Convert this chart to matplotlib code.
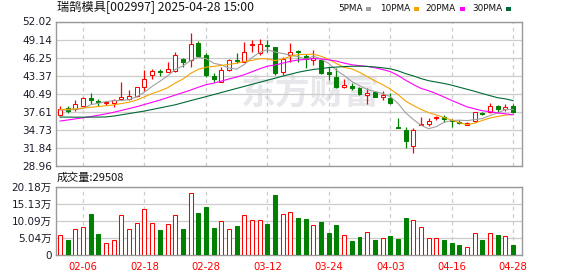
import numpy as np
import pandas as pd
import matplotlib
matplotlib.use("Agg")
import matplotlib.pyplot as plt
from matplotlib.patches import Rectangle

# ---------------- data ----------------
dates = ["01-24", "01-27", "02-05", "02-06", "02-07", "02-10", "02-11", "02-12", "02-13", "02-14",
         "02-17", "02-18", "02-19", "02-20", "02-21", "02-24", "02-25", "02-26", "02-27", "02-28",
         "03-03", "03-04", "03-05", "03-06", "03-07", "03-10", "03-11", "03-12", "03-13", "03-14",
         "03-17", "03-18", "03-19", "03-20", "03-21", "03-24", "03-25", "03-26", "03-27", "03-28",
         "03-31", "04-01", "04-02", "04-03", "04-07", "04-08", "04-09", "04-10", "04-11", "04-14",
         "04-15", "04-16", "04-17", "04-18", "04-21", "04-22", "04-23", "04-24", "04-25", "04-28"]

open_ = [37.06, 38.22, 37.97, 38.54, 39.82, 39.24, 38.93, 38.93, 39.66, 39.66,
         40.09, 41.58, 43.40, 44.13, 43.97, 44.16, 46.00, 45.84, 48.60, 46.64,
         43.28, 42.28, 44.24, 45.84, 45.57, 48.19, 47.01, 48.24, 47.87, 43.97,
         46.69, 47.28, 46.48, 45.84, 45.84, 43.97, 43.17, 41.58, 41.69, 41.32,
         40.25, 40.78, 39.98, 39.82, 35.09, 34.66, 32.15, 35.46, 35.62, 36.58,
         36.69, 36.26, 35.99, 35.51, 36.10, 37.42, 37.58, 38.49, 37.97, 38.49]
close = [37.97, 37.74, 38.77, 39.72, 39.40, 39.08, 39.13, 39.45, 39.88, 40.04,
         41.48, 42.76, 44.08, 43.92, 44.35, 46.59, 45.57, 48.39, 46.48, 43.44,
         42.85, 44.24, 45.84, 45.63, 47.17, 48.35, 48.39, 48.03, 43.72, 46.00,
         47.12, 47.07, 46.05, 46.11, 43.72, 43.60, 41.58, 41.85, 41.37, 40.41,
         40.52, 39.98, 40.25, 38.93, 35.04, 32.95, 34.66, 35.57, 36.15, 36.74,
         36.37, 36.10, 35.83, 35.83, 37.49, 37.26, 38.54, 38.01, 38.38, 37.54]
high = [38.54, 38.49, 39.45, 39.88, 40.52, 39.56, 39.29, 39.61, 42.33, 41.05,
        41.58, 44.24, 44.35, 44.45, 45.47, 47.17, 46.21, 50.20, 48.92, 46.91,
        43.71, 44.77, 45.95, 46.91, 48.76, 49.03, 49.30, 49.03, 47.96, 46.37,
        48.60, 47.44, 46.75, 47.44, 46.00, 44.77, 44.61, 42.76, 42.21, 41.58,
        41.32, 40.94, 40.94, 40.52, 36.53, 35.09, 35.03, 36.69, 36.53, 36.94,
        37.06, 36.42, 36.26, 35.99, 37.58, 37.58, 38.93, 38.60, 38.77, 38.77]
low = [36.94, 37.42, 37.74, 38.49, 38.77, 38.54, 38.65, 38.38, 39.66, 39.45,
       39.98, 40.94, 42.85, 43.33, 43.97, 43.88, 44.77, 44.77, 46.37, 43.17,
       42.37, 42.28, 44.13, 45.31, 45.47, 47.17, 46.64, 47.17, 43.44, 43.44,
       45.57, 45.57, 44.61, 45.04, 43.60, 42.65, 41.32, 41.32, 41.05, 40.25,
       38.81, 39.88, 39.45, 38.81, 35.04, 31.74, 31.04, 35.46, 35.30, 36.26,
       35.99, 35.19, 35.62, 35.41, 35.99, 37.06, 37.42, 37.33, 37.74, 37.33]
# volume in 万手
volume = [6.01, 4.37, 7.76, 8.34, 12.22, 6.11, 3.69, 4.56, 11.83, 7.76,
          9.51, 13.58, 9.51, 7.28, 9.22, 11.83, 7.86, 18.53, 12.51, 14.26,
          8.15, 10.09, 7.76, 8.73, 11.83, 10.38, 10.38, 9.31, 17.75, 12.13,
          12.71, 10.86, 10.57, 9.02, 9.89, 6.40, 9.02, 5.82, 4.07, 5.24,
          6.69, 4.37, 4.95, 5.53, 4.66, 11.06, 10.48, 8.44, 4.95, 4.95,
          4.37, 3.49, 2.91, 2.52, 6.60, 4.37, 6.60, 5.82, 5.53, 2.9508]

# moving-average values before the window is full
ma5_head = [37.85, 37.88, 37.95, 38.10]
ma10_head = [37.95, 37.98, 38.05, 38.18, 38.30, 38.42, 38.55, 38.70, 38.90]
ma20_head = [36.10, 36.27, 36.45, 36.62, 36.82, 37.03, 37.25, 37.50, 37.80, 38.10,
             38.40, 38.75, 39.10, 39.45, 39.85, 40.25, 40.65, 41.05, 41.50]
ma30_head = [36.73, 36.73, 36.72, 36.72, 36.73, 36.74, 36.76, 36.90, 37.10, 37.30,
             37.50, 37.70, 37.95, 38.20, 38.45, 38.70, 39.03, 39.36, 39.68, 40.00,
             40.33, 40.66, 40.99, 41.32, 41.64, 41.97, 42.30, 42.63, 42.95]

price_ticks = [28.96, 31.84, 34.73, 37.61, 40.49, 43.37, 46.25, 49.14, 52.02]
vol_ticks = [0, 5.04, 10.09, 15.13, 20.18]
xtick_dates = ["02-06", "02-18", "02-28", "03-12", "03-24", "04-03", "04-16", "04-28"]
title = "瑞鹄模具[002997] 2025-04-28 15:00"
legend_names = ["5PMA", "10PMA", "20PMA", "30PMA"]

# ---------------- style ----------------
RED = "#ff0000"
GREEN = "#008000"
MA_COLORS = ["#a0a0a0", "#f5a300", "#ff00ff", "#006a35"]
GRID = "#cccccc"
SPINE = "#999999"
LABEL = "#1a1a2a"
CJK = ["Noto Sans CJK SC", "DejaVu Sans"]
MIX = ["DejaVu Sans", "Noto Sans CJK SC"]

W, H = 578, 276
fig = plt.figure(figsize=(W / 100, H / 100), dpi=100)


def fx(px):
    return px / W


def fy(py):
    return 1 - py / H


ax = fig.add_axes([fx(56), fy(165.7), fx(522) - fx(56), fy(21.5) - fy(165.7)])
axv = fig.add_axes([fx(56), fy(255), fx(522) - fx(56), fy(187) - fy(255)])

n = len(dates)
x = np.arange(n)
o = np.array(open_)
c = np.array(close)
hi = np.array(high)
lo = np.array(low)
vol = np.array(volume)
up = c >= o

s = pd.Series(c)
mas = []
for w, head in [(5, ma5_head), (10, ma10_head), (20, ma20_head), (30, ma30_head)]:
    m = s.rolling(w).mean().to_numpy()
    m[:len(head)] = head
    mas.append(m)

xlim = (-0.52, 60.16)
tick_pos = [dates.index(d) for d in xtick_dates]

# ---- price panel ----
ax.set_xlim(*xlim)
ax.set_ylim(price_ticks[0], price_ticks[-1])
ax.set_axisbelow(True)
ax.set_yticks(price_ticks)
ax.set_yticklabels([f"{v:.2f}" for v in price_ticks])
ax.set_xticks(tick_pos)
ax.set_xticklabels([])
ax.grid(axis="y", color=GRID, lw=0.9, ls="-")
ax.grid(axis="x", color=GRID, lw=0.9, ls=(0, (3, 3)))
ax.tick_params(length=0, pad=3, labelsize=7.5, labelcolor=LABEL)
for sp in ax.spines.values():
    sp.set_color(SPINE)
    sp.set_linewidth(1.0)

# watermark
ax.text(32.6, 40.57, "东方财富", fontsize=25, fontweight="bold", color="#e8e8ec",
        family=CJK, ha="center", va="center", zorder=0.2)

cols = np.where(up, RED, GREEN)
ax.vlines(x, lo, hi, colors=cols, lw=0.9, zorder=2)
body_bottom = np.minimum(o, c)
body_h = np.abs(c - o)
ax.bar(x, body_h, bottom=body_bottom, width=0.52,
       color=np.where(up, "white", GREEN), edgecolor=cols, linewidth=0.75, zorder=3)
for m, col in zip(mas, MA_COLORS):
    ax.plot(x, m, color=col, lw=0.8, zorder=4)

# ---- volume panel ----
axv.set_xlim(*xlim)
axv.set_ylim(vol_ticks[0], vol_ticks[-1])
axv.set_axisbelow(True)
axv.set_yticks(vol_ticks)
axv.set_yticklabels(["0"] + [f"{v:.2f}万" for v in vol_ticks[1:]], family=MIX)
axv.set_xticks(tick_pos)
axv.set_xticklabels(xtick_dates)
axv.grid(axis="y", color=GRID, lw=0.9, ls="-")
axv.grid(axis="x", color=GRID, lw=0.9, ls=(0, (3, 3)))
axv.tick_params(axis="y", length=0, pad=3, labelsize=7.5, labelcolor=LABEL)
axv.tick_params(axis="x", length=0, pad=5, labelsize=7.2, labelcolor=RED)
for sp in axv.spines.values():
    sp.set_color(SPINE)
    sp.set_linewidth(1.0)
axv.bar(x, vol, width=0.52, color=np.where(up, "white", GREEN), edgecolor=cols,
        linewidth=0.75, zorder=3)

# ---- texts ----
fig.text(fx(57), fy(7.5), title, family=CJK, fontsize=8.8, color="#111111",
         ha="left", va="center")
fig.text(fx(57), fy(177.7), f"成交量:{volume[-1] * 10000:.0f}", family=CJK, fontsize=8,
         color="#111111", ha="left", va="center")

leg_text_x = [338, 380, 425, 472]
leg_box_x = [366, 414, 460, 506]
for name, tx, bx, col in zip(legend_names, leg_text_x, leg_box_x, MA_COLORS):
    fig.text(fx(tx), fy(8.3), name, fontsize=6.4, color="#111111", ha="left", va="center",
             family="DejaVu Sans")
    fig.patches.append(Rectangle((fx(bx), fy(10.5)), 5 / W, 3.5 / H, transform=fig.transFigure,
                                 facecolor=col, edgecolor="none", figure=fig))

fig.savefig("out.png", dpi=100)
